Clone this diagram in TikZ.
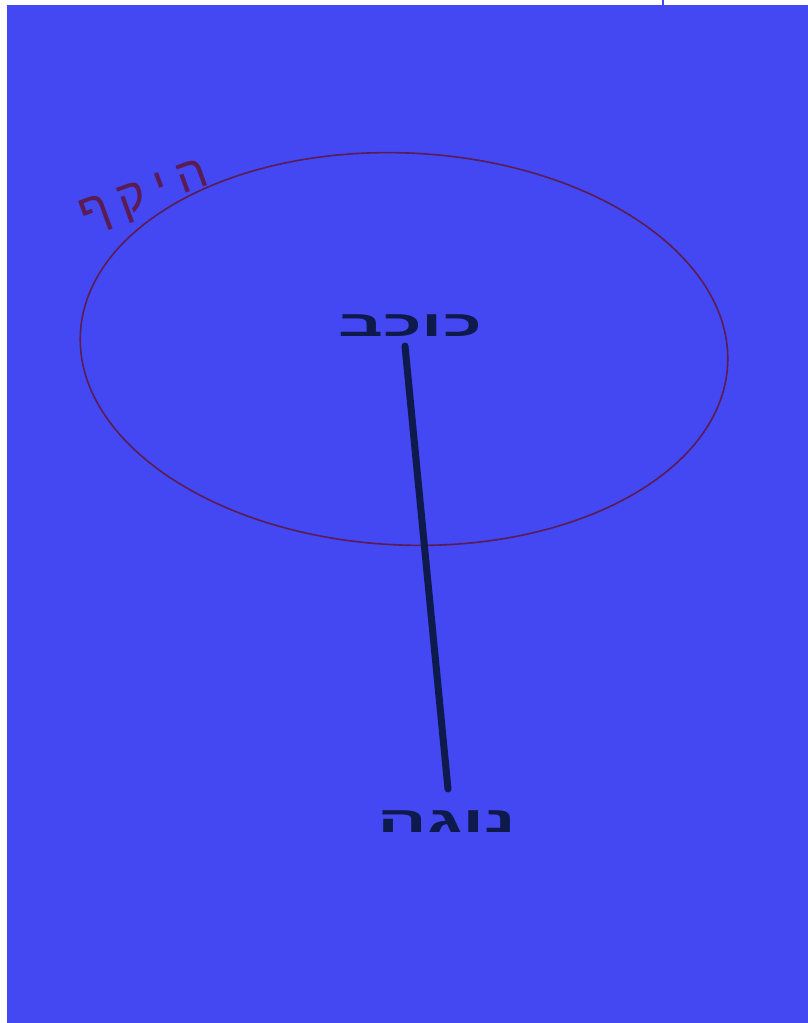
\documentclass[tikz,border=0pt]{standalone}
\usepackage{fontspec}
\TeXXeTstate=1
\newfontfamily\hebfont[Script=Hebrew]{Liberation Sans}
\newfontfamily\hebwide[Script=Hebrew,LetterSpace=22]{Liberation Sans}
\definecolor{paper}{HTML}{4448F2}
\definecolor{ink}{HTML}{0E1A4C}
\definecolor{redink}{HTML}{5A1C52}
\tikzset{
  hebtext/.style={font=\hebfont\bfseries\fontsize{36}{36}\selectfont, text=ink, inner sep=0pt},
  redtext/.style={font=\hebwide\fontsize{48}{48}\selectfont, text=redink, inner sep=0pt},
  orbit/.style={draw=redink, line width=1.6pt},
  stroke/.style={draw=ink, line width=7pt, line cap=round}
}
\begin{document}
\begin{tikzpicture}[x=1pt,y=-1pt]
  % page and paper
  \fill[white] (0,0) rectangle (808,1023);
  \fill[paper] (7,5) rectangle (808,1023);
  \useasboundingbox (0,0) rectangle (808,1023);
  \fill[paper] (662,0) rectangle (664,5);
  % orbit
  \draw[orbit, rotate around={-2.7:(404,349)}] (404,349) ellipse [x radius=324pt, y radius=196pt];
  % labels
  \node[hebtext, xscale=1.95] (kokhav) at (410,326) {\beginR כוכב\endR};
  \node[hebtext, xscale=2.05] (noga) at (447,822) {\beginR נוגה\endR};
  \node[redtext, rotate=20] (hekef) at (145,198) {\beginR היקף\endR};
  % connector
  \coordinate (top) at (405,346);
  \coordinate (bot) at (448,789);
  \draw[stroke] (top) -- (bot);
\end{tikzpicture}
\end{document}
